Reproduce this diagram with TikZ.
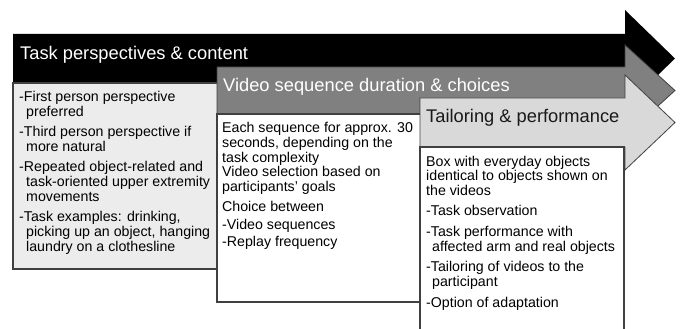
\documentclass[tikz,border=0pt]{standalone}
\usepackage{fontspec}
\setmainfont{Liberation Sans}
\definecolor{bordergray}{HTML}{404040}
\definecolor{midgray}{HTML}{808080}
\definecolor{lightgray}{HTML}{D9D9D9}
\definecolor{boxgray}{HTML}{ECECEC}
\begin{document}
\begin{tikzpicture}[x=1pt,y=-1pt,
  hdr/.style={anchor=base west, inner sep=0pt, font=\fontsize{18.3}{20}\selectfont},
  itm/.style={anchor=base west, inner sep=0pt, font=\fontsize{14.2}{15}\selectfont},
  boxedge/.style={draw=bordergray, line width=1.1pt}]
\useasboundingbox (0,0) rectangle (681,329);
% black arrow
\fill[black] (13,34) -- (625,34) -- (625,10) -- (675,58.5) -- (625,107) -- (625,83) -- (13,83) -- cycle;
% box 1
\filldraw[boxedge, fill=boxgray] (13,83) rectangle (230,269);
% gray arrow
\filldraw[draw=bordergray, line width=0.8pt, fill=midgray] (217,67) -- (625,67) -- (625,45) -- (675,90.5) -- (625,136) -- (625,114) -- (217,114) -- cycle;
% box 2
\filldraw[boxedge, fill=white] (217,114) rectangle (430,302);
% light arrow
\filldraw[draw=bordergray, line width=0.8pt, fill=lightgray] (420,98) -- (625,98) -- (625,75) -- (675,122.5) -- (625,170) -- (625,147) -- (420,147) -- cycle;
% box 3
\fill[white] (420,147) rectangle (624,335);
\draw[boxedge] (420,335) -- (420,147) -- (624,147) -- (624,335);
% headers
\node[hdr, text=white] (h1) at (20,60) {Task perspectives \& content};
\node[hdr, text=white] (h2) at (223,92) {Video sequence duration \& choices};
\node[hdr, text=black!90] (h3) at (426,123) {Tailoring \& performance};
% box 1 text
\node[itm] (a1) at (19,101.5) {-First person perspective};
\node[itm] (a2) at (26,116.5) {preferred};
\node[itm] (a3) at (19,136.5) {-Third person perspective if};
\node[itm] (a4) at (26,151.5) {more natural};
\node[itm] (a5) at (19,171.5) {-Repeated object-related and};
\node[itm] (a6) at (26,186.5) {task-oriented upper extremity};
\node[itm] (a7) at (26,201.5) {movements};
\node[itm] (a8) at (19,221.5) {-Task examples: drinking,};
\node[itm] (a9) at (26,236.5) {picking up an object, hanging};
\node[itm] (a10) at (26,251.5) {laundry on a clothesline};
% box 2 text
\node[itm] (b1) at (222,132.5) {Each sequence for approx. 30};
\node[itm] (b2) at (222,147.5) {seconds, depending on the};
\node[itm] (b3) at (222,162.5) {task complexity};
\node[itm] (b4) at (222,176.5) {Video selection based on};
\node[itm] (b5) at (222,191.5) {participants' goals};
\node[itm] (b6) at (222,211.5) {Choice between};
\node[itm] (b7) at (222,229.5) {-Video sequences};
\node[itm] (b8) at (222,246.5) {-Replay frequency};
% box 3 text
\node[itm] (c1) at (426,166.5) {Box with everyday objects};
\node[itm] (c2) at (426,180.5) {identical to objects shown on};
\node[itm] (c3) at (426,195.5) {the videos};
\node[itm] (c4) at (426,215.5) {-Task observation};
\node[itm] (c5) at (426,236.5) {-Task performance with};
\node[itm] (c6) at (432,251.5) {affected arm and real objects};
\node[itm] (c7) at (426,271.5) {-Tailoring of videos to the};
\node[itm] (c8) at (432,286.5) {participant};
\node[itm] (c9) at (426,307.5) {-Option of adaptation};
\end{tikzpicture}
\end{document}
